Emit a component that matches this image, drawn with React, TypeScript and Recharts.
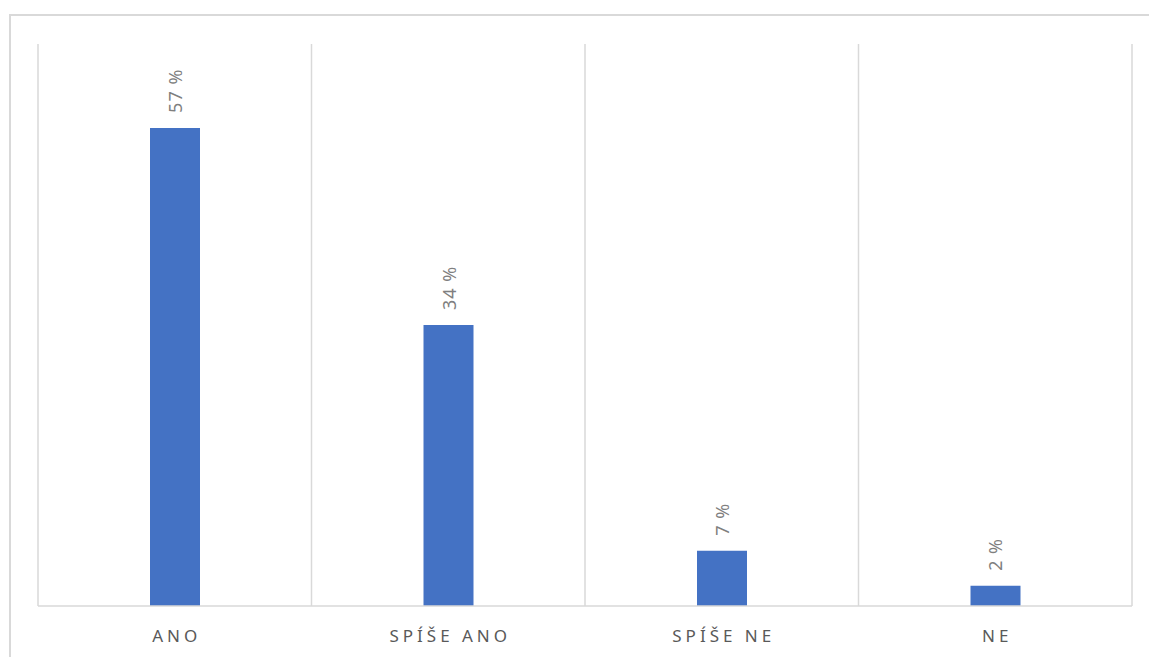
import React from 'react';
import { BarChart, Bar, XAxis, YAxis, CartesianGrid, LabelList } from 'recharts';

const categories = ['ANO', 'SPÍŠE ANO', 'SPÍŠE NE', 'NE'];
const shares = [57, 33.5, 6.6, 2.4];

const data = categories.map((name, i) => ({ name, value: shares[i] }));

const FONT = '"Noto Sans", "Open Sans", sans-serif';
const GRID = '#d9d9d9';

const CategoryTick = (props: any) => {
  const { x, y, payload } = props;
  return (
    <text
      x={x + 2}
      y={y + 28}
      textAnchor="middle"
      fill="#595959"
      fontFamily={FONT}
      fontSize={17}
      letterSpacing="4px"
    >
      {payload.value}
    </text>
  );
};

const ValueLabel = (props: any) => {
  const { x, y, width, value } = props;
  const cx = x + width / 2;
  const ly = y - 15;
  return (
    <text
      x={cx}
      y={ly}
      transform={`rotate(-90, ${cx}, ${ly})`}
      textAnchor="start"
      dominantBaseline="central"
      fill="#7f7f7f"
      fontFamily={FONT}
      fontSize={18}
      letterSpacing="1px"
    >
      {`${Math.round(value)} %`}
    </text>
  );
};

const App: React.FC = () => {
  return (
    <div
      style={{
        position: 'absolute',
        left: 0,
        top: 0,
        width: 1149,
        height: 657,
        overflow: 'hidden',
        background: '#fff',
      }}
    >
      <div
        style={{
          position: 'absolute',
          left: 9,
          top: 14,
          width: 1160,
          height: 700,
          border: `2px solid ${GRID}`,
        }}
      />
      <div style={{ position: 'absolute', left: 0, top: 0 }}>
        <BarChart
          width={1149}
          height={657}
          data={data}
          margin={{ top: 44, right: 17, left: 38, bottom: 11 }}
        >
          <CartesianGrid
            horizontal={false}
            stroke={GRID}
            strokeWidth={1.5}
            verticalCoordinatesGenerator={({ offset }: any) =>
              categories
                .map((_, i) => offset.left + (i * offset.width) / categories.length)
                .concat(offset.left + offset.width)
            }
          />
          <XAxis
            dataKey="name"
            height={40}
            axisLine={{ stroke: GRID, strokeWidth: 1.5 }}
            tickLine={false}
            tick={<CategoryTick />}
            interval={0}
          />
          <YAxis hide domain={[0, 67]} />
          <Bar dataKey="value" fill="#4472c4" barSize={50} isAnimationActive={false}>
            <LabelList dataKey="value" content={<ValueLabel />} />
          </Bar>
        </BarChart>
      </div>
    </div>
  );
};

export default App;
